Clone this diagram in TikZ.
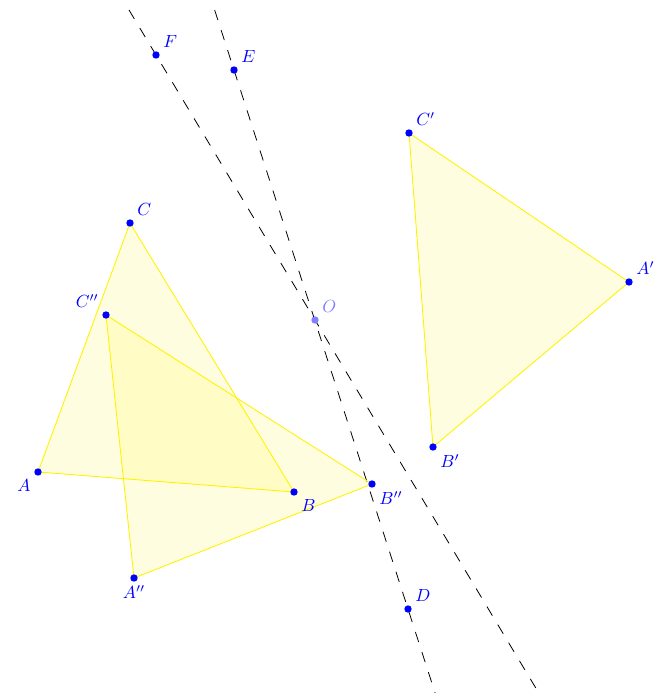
\documentclass[tikz,border=0pt]{standalone}
\usetikzlibrary{calc}
\tikzset{
  dot/.style={circle, fill=blue, inner sep=0pt, minimum size=4.2pt},
  tri/.style={draw=yellow, fill=yellow, fill opacity=0.12, draw opacity=1, line width=0.5pt},
  axis/.style={dash pattern=on 6pt off 6pt, line width=0.45pt},
  lbl/.style={text=blue, inner sep=2pt}
}
\begin{document}
\begin{tikzpicture}[x=0.02cm, y=-0.02cm]
  \useasboundingbox (0,0) rectangle (657,693);
  % points
  \coordinate (A) at (38,472);
  \coordinate (B) at (294,492);
  \coordinate (C) at (130,223);
  \coordinate (A1) at (629,282);
  \coordinate (B1) at (433,447);
  \coordinate (C1) at (409,133);
  \coordinate (A2) at (134,578);
  \coordinate (B2) at (372,484);
  \coordinate (C2) at (106,315);
  \coordinate (O) at (315,320);
  \coordinate (D) at (408,609);
  \coordinate (E) at (234,70);
  \coordinate (F) at (156,55);
  % axes
  \coordinate (de_top) at ($(E)!-0.1113!(D)$);
  \coordinate (de_bot) at ($(E)!1.156!(D)$);
  \coordinate (fo_top) at ($(F)!-0.17!(O)$);
  \coordinate (fo_bot) at ($(F)!2.408!(O)$);
  \draw[axis] (de_top) -- (de_bot);
  \draw[axis] (fo_top) -- (fo_bot);
  % triangles
  \draw[tri] (A) -- (B) -- (C) -- cycle;
  \draw[tri] (A1) -- (B1) -- (C1) -- cycle;
  \draw[tri] (A2) -- (B2) -- (C2) -- cycle;
  % dots and labels
  \foreach \p/\t/\pos in {A/A/below left, B/B/below right, C/C/above right,
      A1/A'/above right, B1/B'/below right, C1/C'/above right,
      A2/A''/below, B2/B''/below right, C2/C''/above left,
      D/D/above right, E/E/above right, F/F/above right} {
    \node[dot] (\p_dot) at (\p) {};
    \node[lbl, \pos=2pt] at (\p_dot) {$\t$};
  }
  \node[dot, fill=blue!50] (O_dot) at (O) {};
  \node[lbl, text=blue!50, above right=2pt] at (O_dot) {$O$};
\end{tikzpicture}
\end{document}
